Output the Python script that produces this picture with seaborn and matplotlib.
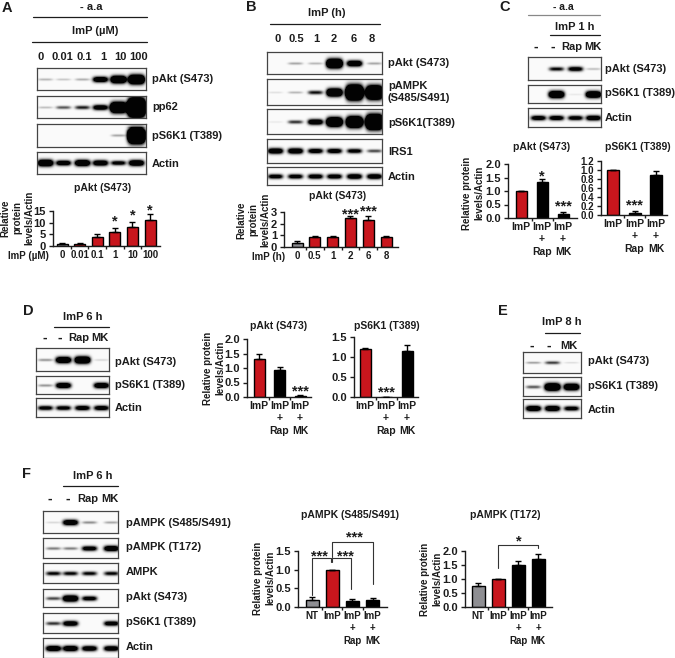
import matplotlib
matplotlib.use("Agg")
import matplotlib.pyplot as plt
import numpy as np
import seaborn as sns

W, H = 675, 658
RED = "#c8161d"
GREY = "#8e8e92"
BLACK = "#000000"
INK = "#1c1c1c"

# Band strengths per lane, read by eye from the blots
A_BLOTS = [
    [0.08, 0.06, 0.09, 0.55, 0.8, 1.0],
    [0.07, 0.2, 0.28, 0.5, 1.15, 2.0],
    [0.0, 0.0, 0.0, 0.0, 0.1, 1.7],
    [0.7, 0.5, 0.65, 0.55, 0.4, 0.6],
]
B_BLOTS = [
    [0.0, 0.1, 0.08, 1.0, 0.6, 0.1],
    [0.03, 0.08, 0.3, 0.85, 1.6, 1.45],
    [0.02, 0.25, 0.55, 1.0, 1.2, 1.6],
    [0.55, 0.55, 0.45, 0.45, 0.4, 0.22],
    [0.42, 0.42, 0.45, 0.45, 0.5, 0.5],
]
C_BLOTS = [
    [0.0, 0.32, 0.42, 0.07],
    [0.0, 0.75, 0.02, 0.7],
    [0.45, 0.45, 0.42, 0.5],
]
D_BLOTS = [
    [0.12, 0.65, 0.75, 0.04],
    [0.12, 0.55, 0.0, 0.55],
    [0.4, 0.4, 0.45, 0.45],
]
E_BLOTS = [
    [0.12, 0.25, 0.04],
    [0.2, 0.8, 0.7],
    [0.55, 0.55, 0.42],
]
F_BLOTS = [
    [0.04, 0.55, 0.13, 0.1],
    [0.15, 0.15, 0.45, 0.55],
    [0.33, 0.33, 0.33, 0.33],
    [0.22, 0.65, 0.42, 0.0],
    [0.25, 0.5, 0.0, 0.45],
    [0.55, 0.55, 0.5, 0.5],
]

# Bar values and error bars
A_LABELS = ["0", "0.01", "0.1", "1", "10", "100"]
A_VALUES = [1.0, 1.0, 3.8, 6.2, 8.2, 11.3]
A_ERRORS = [0.1, 0.3, 1.3, 1.4, 2.0, 2.5]
B_LABELS = ["0", "0.5", "1", "2", "6", "8"]
B_VALUES = [0.35, 0.9, 0.9, 2.45, 2.35, 0.9]
B_ERRORS = [0.18, 0.08, 0.02, 0.25, 0.28, 0.08]
TREATMENTS = ["ImP", "ImP\n+\nRap", "ImP\n+\nMK"]
C1_VALUES = [1.0, 1.33, 0.15]
C1_ERRORS = [0.0, 0.12, 0.08]
C2_VALUES = [1.0, 0.05, 0.9]
C2_ERRORS = [0.0, 0.04, 0.07]
D1_VALUES = [1.3, 0.92, 0.05]
D1_ERRORS = [0.18, 0.1, 0.01]
D2_VALUES = [1.19, 0.01, 1.15]
D2_ERRORS = [0.03, 0.0, 0.14]
F_TREATMENTS = ["NT", "ImP", "ImP\n+\nRap", "ImP\n+\nMK"]
F1_VALUES = [0.2, 1.0, 0.16, 0.2]
F1_ERRORS = [0.07, 0.0, 0.05, 0.03]
F2_VALUES = [0.75, 1.0, 1.5, 1.7]
F2_ERRORS = [0.12, 0.0, 0.14, 0.2]

TICKS_15 = [0, 5, 10, 15]
TICKS_3 = [0, 1, 2, 3]
TICKS_2 = [0.0, 0.5, 1.0, 1.5, 2.0]
TICKS_12 = [0.0, 0.2, 0.4, 0.6, 0.8, 1.0, 1.2]
TICKS_15F = [0.0, 0.5, 1.0, 1.5]

sns.set_theme(style="ticks")
plt.rcParams["font.family"] = ["Liberation Sans", "DejaVu Sans"]
plt.rcParams["font.weight"] = "bold"
plt.rcParams["text.color"] = INK
plt.rcParams["axes.edgecolor"] = INK
plt.rcParams["xtick.color"] = INK
plt.rcParams["ytick.color"] = INK

fig = plt.figure(figsize=(W / 100, H / 100), dpi=100)


def add_axes(left, right, top, bottom):
    return fig.add_axes([left / W, 1 - bottom / H, (right - left) / W, (bottom - top) / H])


def label(x, y, text, size=8, ha="left", **kwargs):
    fig.text(x / W, 1 - y / H, text, fontsize=size, ha=ha, va="center", **kwargs)


def ylabel(x, y, text):
    label(x, y, text, size=7, ha="center", rotation=90, linespacing=1.25)


def lane_labels(xs, y, texts):
    for x, text in zip(xs, texts):
        label(x, y, text, ha="center", size=10 if text == "-" else 8)


def rule(x0, x1, y, color=INK):
    fig.add_artist(plt.Line2D([x0 / W, x1 / W], [1 - y / H, 1 - y / H], color=color, lw=0.9))


def draw_blot(box, lanes, strengths, half_width=8.0):
    """One membrane: gaussian band per lane, darkness and height follow strength"""
    left, right, top, bottom = box
    ax = add_axes(left, right, top, bottom)
    xs = np.arange(left, right, 0.5)
    ys = np.arange(top, bottom, 0.5) - (top + bottom) / 2
    img = np.zeros((len(ys), len(xs)))
    for lane, s in zip(lanes, strengths):
        sigma = 1.0 + 3.2 * s
        across = np.exp(-(((xs - lane) / (half_width * (0.9 + 0.08 * s))) ** 4))
        down = np.exp(-((ys / sigma) ** 2))
        img += 3.2 * s * np.outer(down, across)
    sns.heatmap(
        np.clip(img, 0, 1) * 0.97 + 0.02,
        vmin=0, vmax=1, cmap="gray_r", cbar=False,
        xticklabels=False, yticklabels=False, ax=ax,
    )
    for spine in ax.spines.values():
        spine.set_visible(True)
        spine.set_color("#444444")
        spine.set_linewidth(0.9)


def draw_bars(box, first, step, width, labels, values, errors, colors, yticks, ylim,
              stars=(), tick_size=7.5, ytick_size=8, tick_fmt="{:.1f}"):
    left, right, top, bottom = box
    ax = add_axes(left, right, top, bottom)
    positions = np.arange(len(values))
    sns.barplot(
        x=positions, y=values, hue=positions, palette=colors, legend=False,
        width=width / step, edgecolor=BLACK, linewidth=1.0, saturation=1, ax=ax,
    )
    ax.errorbar(
        positions, values, yerr=[np.zeros(len(errors)), errors], fmt="none",
        ecolor=BLACK, elinewidth=1.0, capsize=2, capthick=1.0, zorder=3,
    )
    ax.set_xlim((left - first) / step, (right - first) / step)
    ax.set_ylim(*ylim)
    ax.set_xticks(positions, labels)
    ax.set_xticks(positions[:-1] + 0.5, minor=True)
    ax.tick_params(axis="x", which="major", length=0, pad=3, labelsize=tick_size)
    ax.tick_params(axis="x", which="minor", length=2, width=1.0)
    for tick_label in ax.get_xticklabels():
        tick_label.set_linespacing(1.28)
    ax.set_yticks(yticks, [tick_fmt.format(t) for t in yticks])
    ax.tick_params(axis="y", length=3, width=1.0, pad=2, labelsize=ytick_size)
    ax.set_xlabel("")
    ax.set_ylabel("")
    ax.spines["left"].set_linewidth(1.0)
    ax.spines["bottom"].set_linewidth(1.0)
    sns.despine(ax=ax)
    ax.patch.set_alpha(0)
    for x, y, text in stars:
        ax.annotate(text, (x, y), xytext=(0, -8), textcoords="offset pixels", ha="center",
                    va="baseline", fontsize=10.5, annotation_clip=False)
    return ax


def bracket(ax, x0, x1, y, drop0, drop1):
    ax.plot([x0, x0, x1, x1], [drop0, y, y, drop1], color="#333333", lw=0.8, clip_on=False)


# Panel A
label(2, 8, "A", size=10.5)
label(91, 7, "- a.a", ha="center")
rule(33, 147, 17)
label(95, 31, "ImP (µM)", ha="center")
rule(32, 147, 42)
lane_labels([41, 62, 84, 103, 120, 139], 57, A_LABELS)
for (top, bottom), strengths in zip([(68, 90), (96, 118), (124, 147), (152, 174)], A_BLOTS):
    draw_blot((37, 146, top, bottom), [45, 63, 82, 100, 118, 136], strengths)
for y, text in zip([79, 107, 136, 164], ["pAkt (S473)", "pp62", "pS6K1 (T389)", "Actin"]):
    label(152, y, text)
label(103, 188, "pAkt (S473)", size=7.5, ha="center")
draw_bars((53, 160, 211, 246), 62, 17.6, 11, A_LABELS, A_VALUES, A_ERRORS,
          [GREY] + [RED] * 5, TICKS_15, (0, 15), tick_size=7,
          stars=[(3, 12.4, "*"), (4, 15.0, "*"), (5, 17.1, "*")], tick_fmt="{:.0f}")
ylabel(17, 218, "Relative\nprotein\nlevels/Actin")
label(8, 256, "ImP (µM)", size=7)

# Panel B
label(246, 7, "B", size=10.5)
label(327, 13, "ImP (h)", ha="center")
rule(270, 380, 24)
lane_labels([278, 296, 316, 334, 354, 372], 39, B_LABELS)
for (top, bottom), strengths in zip([(52, 74), (79, 105), (109, 134), (139, 163), (167, 185)], B_BLOTS):
    draw_blot((267, 382, top, bottom), [275, 295, 315, 334, 354, 374], strengths)
for y, text in zip([63, 92, 123, 152, 177],
                   ["pAkt (S473)", "pAMPK\n(S485/S491)", "pS6K1(T389)", "IRS1", "Actin"]):
    label(388, y, text, linespacing=1.25)
label(338, 196, "pAkt (S473)", size=7.5, ha="center")
draw_bars((284, 398, 212, 247), 297, 17.8, 11, B_LABELS, B_VALUES, B_ERRORS,
          [GREY] + [RED] * 5, TICKS_3, (0, 3), tick_size=7,
          stars=[(3, 3.09, "***"), (4, 3.43, "***")], tick_fmt="{:.0f}")
ylabel(253, 220, "Relative\nprotein\nlevels/Actin")
label(252, 257, "ImP (h)", size=7)

# Panel C
label(499, 7, "C", size=10.5)
label(563, 7, "- a.a", ha="center", size=7.5)
rule(528, 600, 15, color="#888888")
label(575, 27, "ImP 1 h", ha="center")
rule(550, 600, 35)
lane_labels([536, 553, 572, 593], 47, ["-", "-", "Rap", "MK"])
for (top, bottom), strengths in zip([(57, 80), (85, 103), (108, 127)], C_BLOTS):
    draw_blot((528, 601, top, bottom), [538, 556, 575, 593], strengths)
for y, text in zip([69, 93, 118], ["pAkt (S473)", "pS6K1 (T389)", "Actin"]):
    label(605, y, text)
label(542, 147, "pAkt (S473)", size=7.5, ha="center")
draw_bars((508, 577, 164, 218), 521, 21, 11, TREATMENTS, C1_VALUES, C1_ERRORS,
          [RED, BLACK, BLACK], TICKS_2, (0, 2),
          stars=[(1, 1.7, "*"), (2, 0.56, "***")])
ylabel(473, 193, "Relative protein\nlevels/Actin")
label(638, 147, "pS6K1 (T389)", size=7.5, ha="center")
draw_bars((601, 667, 161, 215), 613, 21.5, 12, TREATMENTS, C2_VALUES, C2_ERRORS,
          [RED, BLACK, BLACK], TICKS_12, (0, 1.2), ytick_size=7, stars=[(1, 0.29, "***")])

# Panel D
label(23, 311, "D", size=10.5)
label(83, 317, "ImP 6 h", ha="center")
rule(54, 109, 327)
lane_labels([45, 60, 79, 100], 338, ["-", "-", "Rap", "MK"])
for (top, bottom), strengths in zip([(348, 371), (376, 394), (398, 417)], D_BLOTS):
    draw_blot((36, 109, top, bottom), [45, 63, 82, 101], strengths)
for y, text in zip([362, 385, 408], ["pAkt (S473)", "pS6K1 (T389)", "Actin"]):
    label(115, y, text)
label(279, 326, "pAkt (S473)", size=7.5, ha="center")
draw_bars((247, 311, 339, 397), 259, 20.5, 11, TREATMENTS, D1_VALUES, D1_ERRORS,
          [RED, BLACK, BLACK], TICKS_2, (0, 2), stars=[(2, 0.34, "***")])
ylabel(214, 368, "Relative protein\nlevels/Actin")
label(387, 326, "pS6K1 (T389)", size=7.5, ha="center")
draw_bars((354, 418, 337, 397), 365, 21, 11, TREATMENTS, D2_VALUES, D2_ERRORS,
          [RED, BLACK, BLACK], TICKS_15F, (0, 1.5), stars=[(1, 0.22, "***")])

# Panel E
label(498, 311, "E", size=10.5)
label(562, 322, "ImP 8 h", ha="center")
rule(545, 580, 333)
lane_labels([532, 549, 569], 346, ["-", "-", "MK"])
for (top, bottom), strengths in zip([(352, 373), (377, 396), (399, 418)], E_BLOTS):
    draw_blot((523, 581, top, bottom), [533, 552, 571], strengths)
for y, text in zip([361, 386, 410], ["pAkt (S473)", "pS6K1 (T389)", "Actin"]):
    label(588, y, text)

# Panel F
label(22, 474, "F", size=10.5)
label(93, 476, "ImP 6 h", ha="center")
rule(63, 118, 486)
lane_labels([50, 68, 88, 110], 499, ["-", "-", "Rap", "MK"])
F_ROWS = [(511, 533), (538, 558), (563, 583), (589, 607), (613, 633), (638, 658)]
for (top, bottom), strengths in zip(F_ROWS, F_BLOTS):
    draw_blot((43, 118, top, bottom), [53, 70, 89, 111], strengths)
for y, text in zip([523, 547, 572, 597, 622, 647],
                   ["pAMPK (S485/S491)", "pAMPK (T172)", "AMPK", "pAkt (S473)", "pS6K1 (T389)", "Actin"]):
    label(126, y, text)

label(350, 515, "pAMPK (S485/S491)", size=7.5, ha="center")
ax_f1 = draw_bars((298, 387, 551, 607), 312, 20.2, 13, F_TREATMENTS, F1_VALUES, F1_ERRORS,
                  [GREY, RED, BLACK, BLACK], TICKS_15F, (0, 1.5), tick_size=7,
                  stars=[(0.35, 1.45, "***"), (1.67, 1.45, "***"), (2.09, 1.96, "***")])
bracket(ax_f1, 0, 0.95, 1.31, 0.31, 1.2)
bracket(ax_f1, 1, 1.95, 1.31, 1.2, 0.49)
bracket(ax_f1, 1, 3, 1.74, 1.33, 0.62)
ylabel(264, 578, "Relative protein\nlevels/Actin")

label(505, 515, "pAMPK (T172)", size=7.5, ha="center")
ax_f2 = draw_bars((465, 552, 551, 607), 478, 20, 13, F_TREATMENTS, F2_VALUES, F2_ERRORS,
                  [GREY, RED, BLACK, BLACK], TICKS_2, (0, 2), tick_size=7,
                  stars=[(2.03, 2.5, "*")])
bracket(ax_f2, 1, 3, 2.23, 1.4, 2.12)
ylabel(431, 579, "Relative protein\nlevels/Actin")

fig.savefig("out.png", dpi=100)
